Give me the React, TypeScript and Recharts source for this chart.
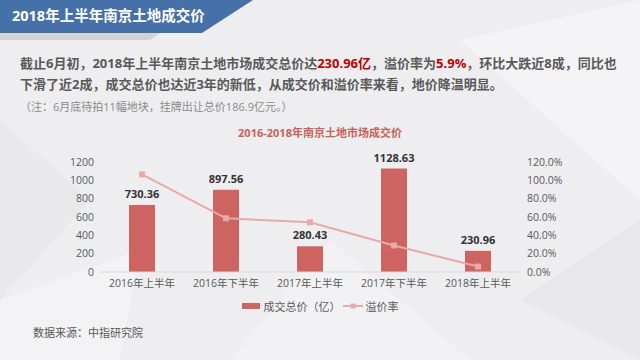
import React from 'react';
import { ComposedChart, Bar, Line, XAxis, YAxis, LabelList, Legend } from 'recharts';

const periods = ['2016年上半年', '2016年下半年', '2017年上半年', '2017年下半年', '2018年上半年'];
const totalPrice = [730.36, 897.56, 280.43, 1128.63, 230.96];
const premiumRate = [106.5, 58.6, 54.2, 28.9, 5.9];
const leftTicks = [0, 200, 400, 600, 800, 1000, 1200];
const rightTicks = [0, 20, 40, 60, 80, 100, 120];

const data = periods.map((p, i) => ({ name: p, total: totalPrice[i], rate: premiumRate[i] }));

const FONT = "'Open Sans', 'Noto Sans CJK SC', sans-serif";
const BAR_COLOR = '#cd6462';
const LINE_COLOR = '#e8a9a8';

const LegendBox = () => (
  <div style={{ height: 20, display: 'flex', justifyContent: 'center', alignItems: 'center', fontSize: 11, color: '#595959' }}>
    <span style={{ display: 'inline-block', width: 18, height: 6, background: BAR_COLOR, marginRight: 4 }} />
    <span>成交总价（亿）</span>
    <svg width={20} height={10} style={{ margin: '0 3px 0 2px' }}>
      <line x1={0} y1={5} x2={20} y2={5} stroke={LINE_COLOR} strokeWidth={2} />
      <rect x={7.5} y={2.5} width={5} height={5} fill={LINE_COLOR} />
    </svg>
    <span>溢价率</span>
  </div>
);

const App: React.FC = () => {
  return (
    <div style={{ position: 'absolute', left: 0, top: 0, width: 640, height: 360, overflow: 'hidden', fontFamily: FONT, background: '#eeeef0' }}>
      {/* background facets */}
      <svg width={640} height={360} style={{ position: 'absolute', left: 0, top: 0 }}>
        <polygon points="0,120 90,200 0,300" fill="#e9e9ec" />
        <polygon points="230,360 330,240 470,360" fill="#f2f2f4" />
        <polygon points="460,40 640,0 640,200" fill="#f4f4f6" />
        <polygon points="520,300 640,220 640,360" fill="#e8e8eb" />
        <polygon points="0,300 140,250 120,360 0,360" fill="#f3f3f5" />
        <polygon points="0,33 160,33 150,40 0,40" fill="#d3d3d6" />
      </svg>
      <svg width={640} height={40} style={{ position: 'absolute', left: 0, top: 0 }}>
        <polygon points="0,0 253,0 202,33 0,33" fill="#4671a8" />
      </svg>
      <div style={{ position: 'absolute', left: 12, top: 6, color: '#fff', fontSize: 14.5, fontWeight: 700, lineHeight: '20px' }}>
        2018年上半年南京土地成交价
      </div>
      <div style={{ position: 'absolute', left: 20, top: 53, width: 610, color: '#595959', fontSize: 13, fontWeight: 700, lineHeight: '21px' }}>
        截止6月初，2018年上半年南京土地市场成交总价达<span style={{ color: '#c00000' }}>230.96亿</span>，溢价率为<span style={{ color: '#c00000' }}>5.9%</span>，环比大跌近8成，同比也
        <br />
        下滑了近2成，成交总价也达近3年的新低，从成交价和溢价率来看，地价降温明显。
      </div>
      <div style={{ position: 'absolute', left: 20, top: 99, color: '#8a8a8a', fontSize: 11, lineHeight: '16px' }}>
        （注：6月底待拍11幅地块，挂牌出让总价186.9亿元。）
      </div>
      <div style={{ position: 'absolute', left: 0, top: 125, width: 640, textAlign: 'center', color: '#c8605e', fontSize: 11, fontWeight: 700, lineHeight: '16px' }}>
        2016-2018年南京土地市场成交价
      </div>
      <div style={{ position: 'absolute', left: 0, top: 0 }}>
        <ComposedChart width={640} height={360} data={data} margin={{ top: 162, right: 0, left: 0, bottom: 44 }}>
          <XAxis
            dataKey="name"
            height={24}
            tickLine={false}
            tickSize={0}
            tickMargin={8}
            axisLine={{ stroke: '#d9d9d9' }}
            tick={{ fill: '#595959', fontSize: 10.5 }}
          />
          <YAxis
            yAxisId="left"
            width={100}
            domain={[0, 1200]}
            ticks={leftTicks}
            axisLine={false}
            tickLine={false}
            tickSize={0}
            tickMargin={6}
            tick={{ fill: '#595959', fontSize: 10.5 }}
          />
          <YAxis
            yAxisId="right"
            orientation="right"
            width={120}
            domain={[0, 120]}
            ticks={rightTicks}
            axisLine={false}
            tickLine={false}
            tickSize={0}
            tickMargin={7}
            tickFormatter={(v: number) => v.toFixed(1) + '%'}
            tick={{ fill: '#595959', fontSize: 10.5 }}
          />
          <Legend verticalAlign="bottom" height={20} content={() => <LegendBox />} />
          <Bar yAxisId="left" dataKey="total" fill={BAR_COLOR} barSize={26} isAnimationActive={false}>
            <LabelList dataKey="total" position="top" offset={7} fill="#333" fontSize={11} fontWeight={700} formatter={(v: number) => v.toFixed(2)} />
          </Bar>
          <Line
            yAxisId="right"
            dataKey="rate"
            stroke={LINE_COLOR}
            strokeWidth={2}
            dot={(props: any) => (
              <rect key={props.index} x={props.cx - 3} y={props.cy - 3} width={6} height={6} fill={LINE_COLOR} />
            )}
            activeDot={false}
            isAnimationActive={false}
          />
        </ComposedChart>
      </div>
      <div style={{ position: 'absolute', left: 33, top: 325, color: '#595959', fontSize: 11, lineHeight: '16px' }}>
        数据来源：中指研究院
      </div>
    </div>
  );
};

export default App;
